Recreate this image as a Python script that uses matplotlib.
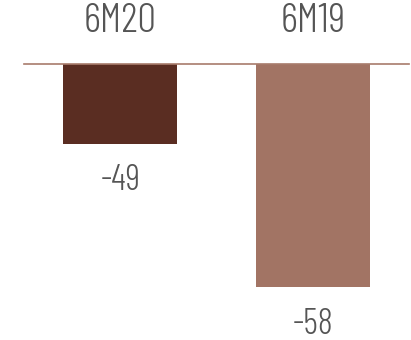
import matplotlib
matplotlib.use("Agg")
import matplotlib.pyplot as plt

# datos
categorias = ["6M20", "6M19"]
valores = [-49, -58]
colores = ["#5a2d22", "#a27464"]
linea_base = -44  # el eje empieza aquí, no en cero

plt.rcParams['font.family'] = ['Barlow Condensed', 'DejaVu Sans']
plt.rcParams['font.weight'] = 300

fig = plt.figure(figsize=(4.11, 3.40), dpi=100)
ax = fig.add_axes([24/411, 0, 385/411, 276/340])

x = range(len(categorias))
ax.bar(x, valores, width=0.59, color=colores)

ax.set_xlim(-0.5, 1.5)
ax.set_ylim(linea_base - 17.33, linea_base)

# etiquetas de valor bajo cada barra
for xi, v in zip(x, valores):
    ax.annotate(str(v), (xi, v), xytext=(0, -15), textcoords='offset points',
                ha='center', va='top', fontsize=26, color='#555555',
                fontweight=300, annotation_clip=False)

# categorías arriba
ax.xaxis.tick_top()
ax.set_xticks(list(x))
ax.set_xticklabels(categorias, fontsize=30, color='#555555', fontweight=300)
ax.tick_params(axis='x', length=0, pad=17)
ax.set_yticks([])

for lado in ['left', 'right', 'bottom']:
    ax.spines[lado].set_visible(False)
ax.spines['top'].set_color('#a87c6c')
ax.spines['top'].set_linewidth(1.2)

fig.savefig("out.png", dpi=100)
